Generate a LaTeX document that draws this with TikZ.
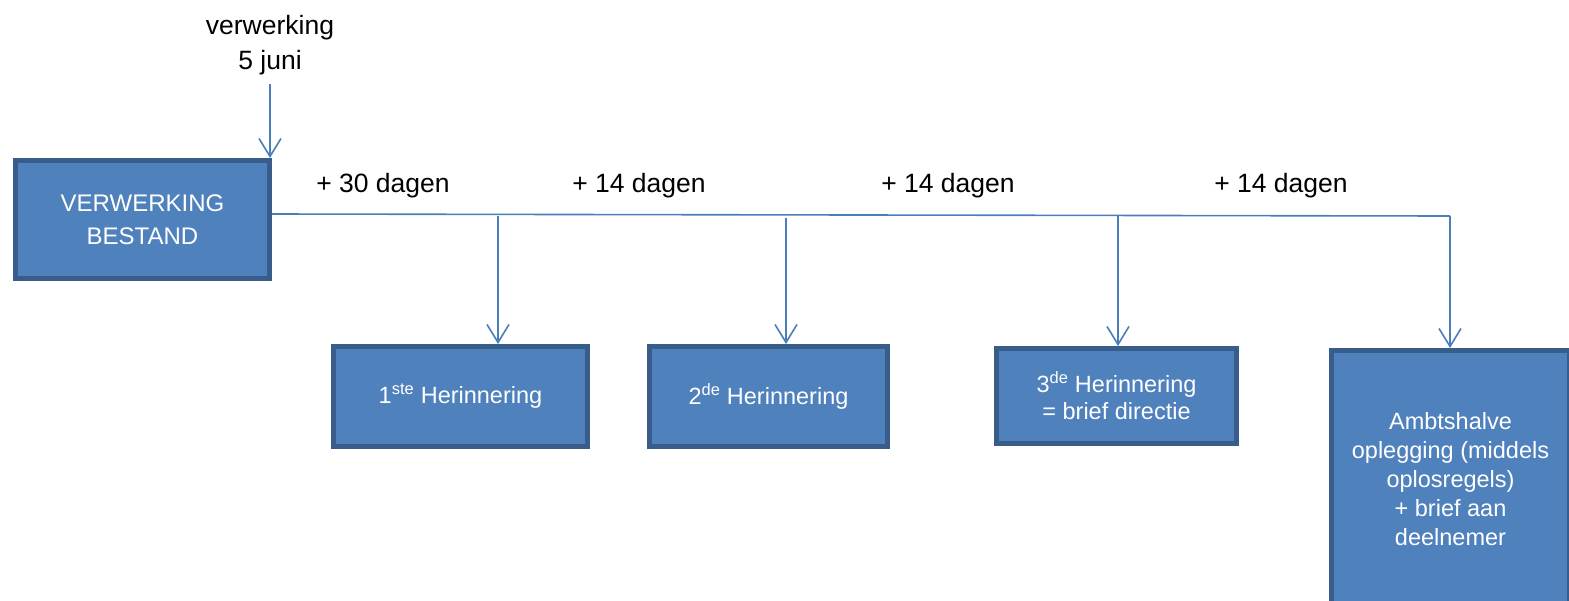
\documentclass[tikz,border=0pt]{standalone}
\usepackage{fontspec}
\setmainfont{Liberation Sans}
\usetikzlibrary{arrows.meta}
\definecolor{boxfill}{HTML}{4F81BD}
\definecolor{boxborder}{HTML}{385D8A}
\definecolor{linkc}{HTML}{4A7EBB}
\begin{document}
\begin{tikzpicture}[x=1pt,y=-1pt,
  box/.style={draw=boxborder,fill=boxfill,line width=5pt,inner sep=0pt,
    text=white,align=center,font=\fontsize{23.5}{28}\selectfont},
  link/.style={draw=linkc,line width=1.6pt},
  arr/.style={link,-{Straight Barb[length=18pt,width=22pt,line width=1.6pt]}},
  lab/.style={font=\fontsize{26.5}{35}\selectfont,align=center,inner sep=0pt}]
\useasboundingbox (0,0) rectangle (1569,600);
\begin{scope}
\clip (0,0) rectangle (1569,600);
\node[box,minimum width=254pt,minimum height=118pt,font=\fontsize{24}{33}\selectfont] (b1) at (142.5,219.5) {VERWERKING\\BESTAND};
\node[box,minimum width=254pt,minimum height=100pt] (b2) at (460.5,396.5) {1\textsuperscript{ste} Herinnering};
\node[box,minimum width=238pt,minimum height=100pt] (b3) at (768.5,396.5) {2\textsuperscript{de} Herinnering};
\node[box,minimum width=240pt,minimum height=95pt,font=\fontsize{23.5}{27}\selectfont] (b4) at (1116.5,396) {3\textsuperscript{de} Herinnering\\= brief directie};
\node[box,minimum width=238pt,minimum height=258pt,font=\fontsize{23.5}{29}\selectfont] (b5) at (1450.5,479.5) {Ambtshalve\\oplegging (middels\\oplosregels)\\+ brief aan\\deelnemer};
\end{scope}
\node[lab] (top) at (270,45) {verwerking\\5 juni};
\coordinate (a0) at (270,84);
\draw[arr] (a0) -- (a0 |- b1.north);
\coordinate (t0) at (272,214);
\coordinate (t1) at (498,216);
\coordinate (t2) at (786,218);
\coordinate (t3) at (1118,216);
\coordinate (t4) at (1450,216);
\draw[link] (t0) -- (t4);
\draw[arr] (t1) -- (t1 |- b2.north);
\draw[arr] (t2) -- (t2 |- b3.north);
\draw[arr] (t3) -- (t3 |- b4.north);
\draw[arr] (t4) -- (t4 |- b5.north);
\node[lab] (l1) at (383,186) {+ 30 dagen};
\node[lab] (l2) at (639,186) {+ 14 dagen};
\node[lab] (l3) at (948,186) {+ 14 dagen};
\node[lab] (l4) at (1281,186) {+ 14 dagen};
\end{tikzpicture}
\end{document}
